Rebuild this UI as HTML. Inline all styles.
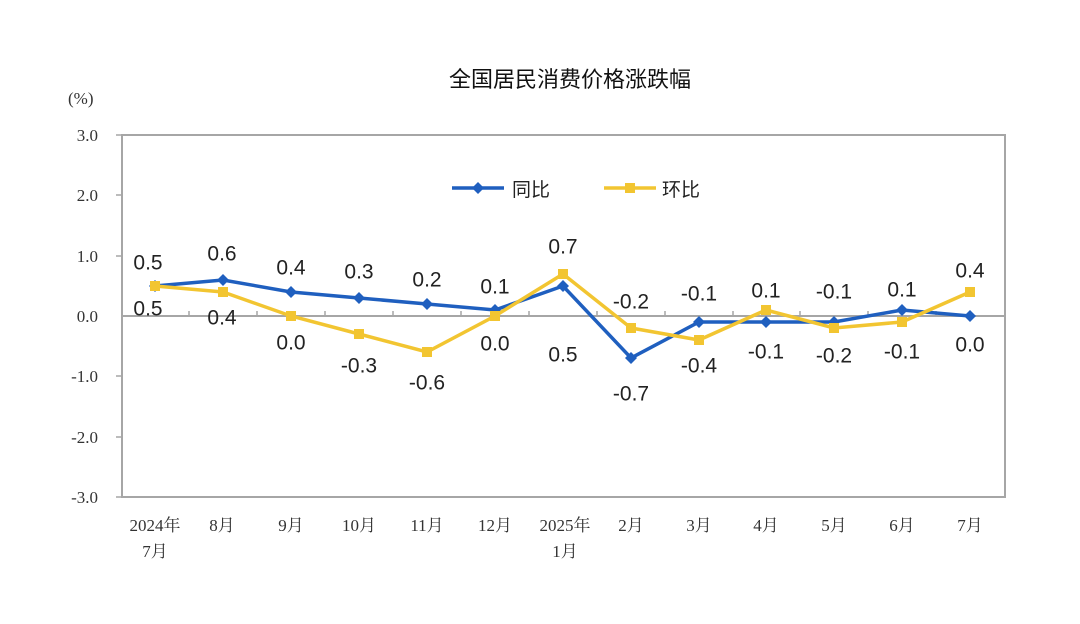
<!DOCTYPE html>
<html><head><meta charset="utf-8"><style>
html,body{margin:0;padding:0;background:#fff;width:1080px;height:624px;overflow:hidden}
.lb{font-family:"Liberation Sans","Noto Sans CJK SC",sans-serif;font-size:21px;fill:#222;text-anchor:middle;dominant-baseline:central}
</style></head><body>
<svg width="1080" height="624" xmlns="http://www.w3.org/2000/svg">
<text x="570" y="87" font-size="22" text-anchor="middle" fill="#111" font-family="Liberation Sans, Noto Sans CJK SC, sans-serif">全国居民消费价格涨跌幅</text>
<text x="68" y="104" font-size="17" fill="#333" font-family="Liberation Serif, Noto Serif CJK SC, serif">(%)</text>
<rect x="122" y="135" width="883" height="362" fill="none" stroke="#a6a6a6" stroke-width="2"/>
<line x1="122" y1="316" x2="1005" y2="316" stroke="#a6a6a6" stroke-width="2"/>
<g stroke="#a6a6a6" stroke-width="1.5">
<line x1="189" y1="316" x2="189" y2="311"/><line x1="257" y1="316" x2="257" y2="311"/><line x1="325" y1="316" x2="325" y2="311"/><line x1="393" y1="316" x2="393" y2="311"/><line x1="461" y1="316" x2="461" y2="311"/><line x1="529" y1="316" x2="529" y2="311"/><line x1="597" y1="316" x2="597" y2="311"/><line x1="665" y1="316" x2="665" y2="311"/><line x1="733" y1="316" x2="733" y2="311"/><line x1="800" y1="316" x2="800" y2="311"/><line x1="868" y1="316" x2="868" y2="311"/><line x1="936" y1="316" x2="936" y2="311"/>
<line x1="116" y1="135" x2="122" y2="135"/><line x1="116" y1="195" x2="122" y2="195"/><line x1="116" y1="256" x2="122" y2="256"/><line x1="116" y1="376" x2="122" y2="376"/><line x1="116" y1="437" x2="122" y2="437"/><line x1="116" y1="497" x2="122" y2="497"/>
</g>
<g font-family="Liberation Serif, Noto Serif CJK SC, serif" font-size="17" fill="#333" text-anchor="end">
<text x="98" y="141">3.0</text><text x="98" y="201">2.0</text><text x="98" y="262">1.0</text><text x="98" y="322">0.0</text><text x="98" y="382">-1.0</text><text x="98" y="443">-2.0</text><text x="98" y="503">-3.0</text>
</g>
<g font-family="Liberation Serif, Noto Serif CJK SC, serif" font-size="17" fill="#333" text-anchor="middle">
<text x="155" y="531">2024年</text><text x="155" y="557">7月</text>
<text x="222" y="531">8月</text><text x="291" y="531">9月</text><text x="359" y="531">10月</text><text x="427" y="531">11月</text><text x="495" y="531">12月</text>
<text x="565" y="531">2025年</text><text x="565" y="557">1月</text>
<text x="631" y="531">2月</text><text x="699" y="531">3月</text><text x="766" y="531">4月</text><text x="834" y="531">5月</text><text x="902" y="531">6月</text><text x="970" y="531">7月</text>
</g>
<polyline fill="none" stroke="#1f5fbf" stroke-width="3.5" points="155,286 223,280 291,292 359,298 427,304 495,310 563,286 631,358 699,322 766,322 834,322 902,310 970,316"/>
<g fill="#1f5fbf">
<polygon points="155,280 161,286 155,292 149,286"/><polygon points="223,274 229,280 223,286 217,280"/><polygon points="291,286 297,292 291,298 285,292"/><polygon points="359,292 365,298 359,304 353,298"/><polygon points="427,298 433,304 427,310 421,304"/><polygon points="495,304 501,310 495,316 489,310"/><polygon points="563,280 569,286 563,292 557,286"/><polygon points="631,352 637,358 631,364 625,358"/><polygon points="699,316 705,322 699,328 693,322"/><polygon points="766,316 772,322 766,328 760,322"/><polygon points="834,316 840,322 834,328 828,322"/><polygon points="902,304 908,310 902,316 896,310"/><polygon points="970,310 976,316 970,322 964,316"/>
</g>
<polyline fill="none" stroke="#f2c531" stroke-width="3.5" points="155,286 223,292 291,316 359,334 427,352 495,316 563,274 631,328 699,340 766,310 834,328 902,322 970,292"/>
<g fill="#f2c531">
<rect x="150" y="281" width="10" height="10"/><rect x="218" y="287" width="10" height="10"/><rect x="286" y="311" width="10" height="10"/><rect x="354" y="329" width="10" height="10"/><rect x="422" y="347" width="10" height="10"/><rect x="490" y="311" width="10" height="10"/><rect x="558" y="269" width="10" height="10"/><rect x="626" y="323" width="10" height="10"/><rect x="694" y="335" width="10" height="10"/><rect x="761" y="305" width="10" height="10"/><rect x="829" y="323" width="10" height="10"/><rect x="897" y="317" width="10" height="10"/><rect x="965" y="287" width="10" height="10"/>
</g>
<line x1="452" y1="188" x2="504" y2="188" stroke="#1f5fbf" stroke-width="3.5"/>
<polygon points="478,182 484,188 478,194 472,188" fill="#1f5fbf"/>
<text x="512" y="196" font-size="19" fill="#222" font-family="Liberation Sans, Noto Sans CJK SC, sans-serif">同比</text>
<line x1="604" y1="188" x2="656" y2="188" stroke="#f2c531" stroke-width="3.5"/>
<rect x="625" y="183" width="10" height="10" fill="#f2c531"/>
<text x="662" y="196" font-size="19" fill="#222" font-family="Liberation Sans, Noto Sans CJK SC, sans-serif">环比</text>
<g class="lb">
<text x="148" y="263">0.5</text><text x="148" y="309">0.5</text>
<text x="222" y="254">0.6</text><text x="222" y="318">0.4</text>
<text x="291" y="268">0.4</text><text x="291" y="343">0.0</text>
<text x="359" y="272">0.3</text><text x="359" y="366">-0.3</text>
<text x="427" y="280">0.2</text><text x="427" y="383">-0.6</text>
<text x="495" y="287">0.1</text><text x="495" y="344">0.0</text>
<text x="563" y="247">0.7</text><text x="563" y="355">0.5</text>
<text x="631" y="302">-0.2</text><text x="631" y="394">-0.7</text>
<text x="699" y="294">-0.1</text><text x="699" y="366">-0.4</text>
<text x="766" y="291">0.1</text><text x="766" y="352">-0.1</text>
<text x="834" y="292">-0.1</text><text x="834" y="356">-0.2</text>
<text x="902" y="290">0.1</text><text x="902" y="352">-0.1</text>
<text x="970" y="271">0.4</text><text x="970" y="345">0.0</text>
</g>
</svg>
</body></html>
